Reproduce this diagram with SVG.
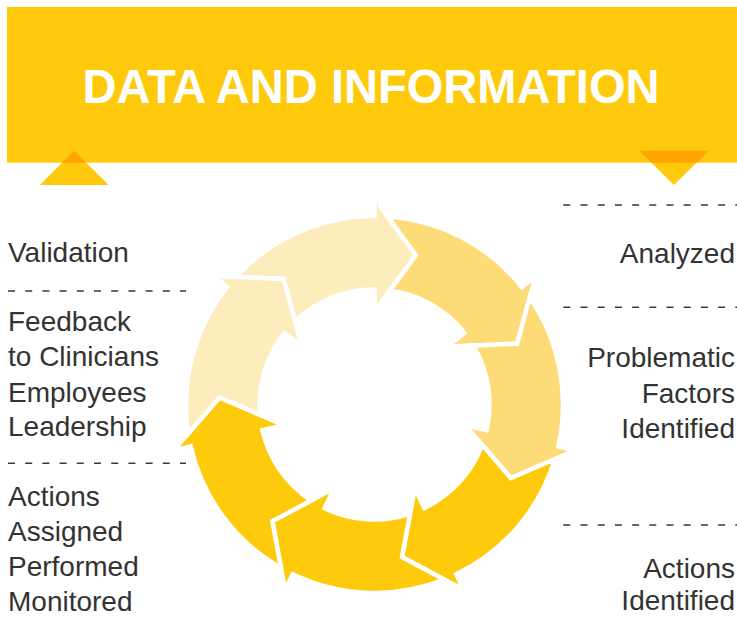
<svg xmlns="http://www.w3.org/2000/svg" xmlns:xlink="http://www.w3.org/1999/xlink" width="737" height="617" viewBox="0 0 737 617">
<style>
.lbl{font-family:"Liberation Sans",Arial,sans-serif;font-size:28px;fill:#333333}
.r{text-anchor:end}
.dash{stroke:#3a3a3a;stroke-width:1.5;stroke-dasharray:7 10.2;fill:none}
.arrow{stroke:#ffffff;stroke-width:4.5;stroke-linejoin:miter}
.light{fill:#FEEDBC}
.mid{fill:#FDDB77}
.yel{fill:#FECB0C}
</style>
<defs>
<path id="arw" d="M -138.83 -127.51 A 188.5 188.5 0 0 1 0 -188.5 L 0 -206 L 41.42 -149.36 L 0 -93 L 0 -115 A 115 115 0 0 0 -79.49 -83.10 L -90.95 -125.51 Z"/>
<path id="arw0" d="M -138.83 -127.51 A 188.5 188.5 0 0 1 0 -188.5 L 0 -217 L 7.31 -196 L 41.42 -149.36 L 0 -93 L 0 -115 A 115 115 0 0 0 -79.49 -83.10 L -90.95 -125.51 Z"/>
</defs>
<rect width="737" height="617" fill="#ffffff"/>
<g id="header">
<rect x="7" y="7" width="735" height="155.7" fill="#FFCA0B"/>
<text x="371" y="102.5" text-anchor="middle" textLength="577" lengthAdjust="spacingAndGlyphs" style="font-family:'Liberation Sans',Arial,sans-serif;font-size:48px;font-weight:bold;fill:#ffffff">DATA AND INFORMATION</text>
</g>
<g id="triangle-left">
<polygon points="74,150.7 108.7,185 40,185" fill="#FFCA0B"/>
<polygon points="74,150.7 86,162.7 62,162.7" fill="#FFA402"/>
</g>
<g id="triangle-right">
<polygon points="639.3,150.7 708.7,150.7 674,185" fill="#FFCA0B"/>
<polygon points="639.3,150.7 708.7,150.7 696.6,162.7 651.4,162.7" fill="#FFA402"/>
</g>
<g id="cycle">
<g id="arrow-1"><use xlink:href="#arw0" class="arrow light" transform="translate(374.5 404.5) rotate(0)"/></g>
<g id="arrow-2"><use xlink:href="#arw" class="arrow mid" transform="translate(374.5 404.5) rotate(51.4286)"/></g>
<g id="arrow-3"><use xlink:href="#arw" class="arrow mid" transform="translate(374.5 404.5) rotate(102.8571)"/></g>
<g id="arrow-4"><use xlink:href="#arw" class="arrow yel" transform="translate(374.5 404.5) rotate(154.2857)"/></g>
<g id="arrow-5"><use xlink:href="#arw" class="arrow yel" transform="translate(374.5 404.5) rotate(205.7143)"/></g>
<g id="arrow-6"><use xlink:href="#arw" class="arrow yel" transform="translate(374.5 404.5) rotate(257.1429)"/></g>
<g id="arrow-7"><use xlink:href="#arw" class="arrow light" transform="translate(374.5 404.5) rotate(308.5714)"/></g>
</g>
<g id="separators">
<line class="dash" x1="8" y1="291" x2="186" y2="291"/>
<line class="dash" x1="8" y1="463.3" x2="186" y2="463.3"/>
<line class="dash" x1="563.3" y1="205" x2="745" y2="205"/>
<line class="dash" x1="563.3" y1="307.3" x2="745" y2="307.3"/>
<line class="dash" x1="563.3" y1="525" x2="745" y2="525"/>
</g>
<g id="left-labels">
<text class="lbl" x="8" y="262.3">Validation</text>
<text class="lbl" x="8" y="331">Feedback</text>
<text class="lbl" x="8" y="366.3">to Clinicians</text>
<text class="lbl" x="8" y="401.5">Employees</text>
<text class="lbl" x="8" y="436">Leadership</text>
<text class="lbl" x="8" y="505.5">Actions</text>
<text class="lbl" x="8" y="540.5">Assigned</text>
<text class="lbl" x="8" y="576">Performed</text>
<text class="lbl" x="8" y="610.5">Monitored</text>
</g>
<g id="right-labels">
<text class="lbl r" x="735" y="263.3">Analyzed</text>
<text class="lbl r" x="735" y="367.3">Problematic</text>
<text class="lbl r" x="735" y="403.3">Factors</text>
<text class="lbl r" x="735" y="438.3">Identified</text>
<text class="lbl r" x="735" y="578.3">Actions</text>
<text class="lbl r" x="735" y="610">Identified</text>
</g>
</svg>
